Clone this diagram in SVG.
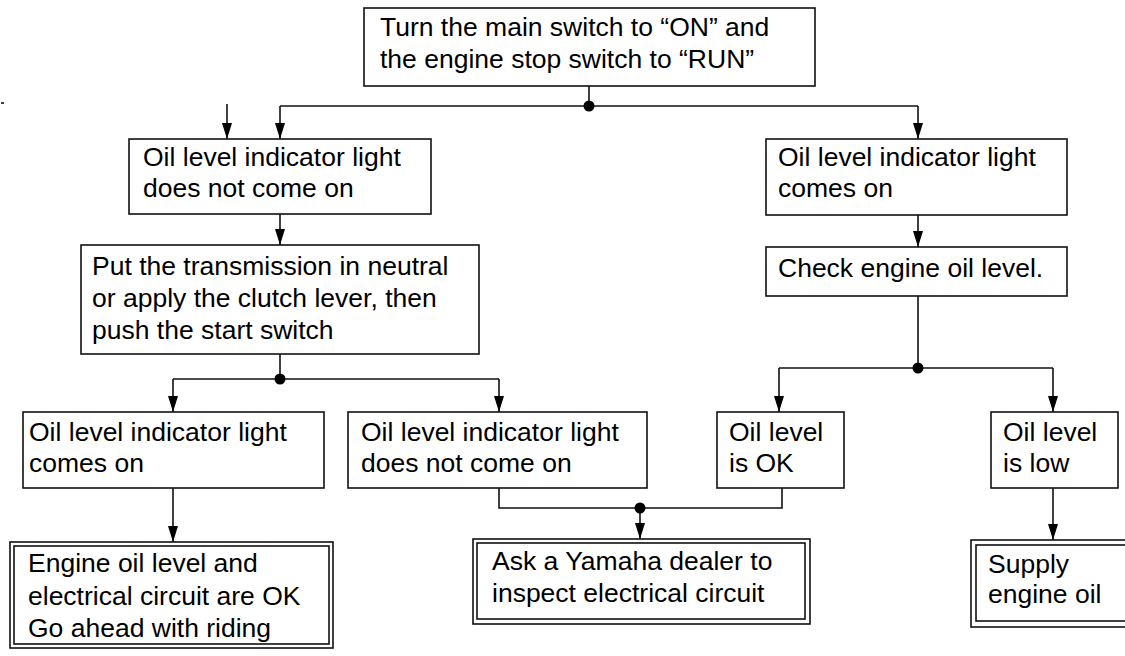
<svg xmlns="http://www.w3.org/2000/svg" width="1125" height="656" viewBox="0 0 1125 656">
<defs>
<style>
.box{fill:#fff;stroke:#111;stroke-width:1.6}
.ln{fill:none;stroke:#111;stroke-width:1.6}
.t{font-family:"Liberation Sans",Arial,sans-serif;font-size:26.5px;fill:#000}
.dot{fill:#000}
</style>
<marker id="ah" viewBox="0 0 16 10" refX="16" refY="5" markerWidth="16" markerHeight="10" markerUnits="userSpaceOnUse" orient="auto">
<path d="M0,0 L16,5 L0,10 z" fill="#000"/>
</marker>
</defs>
<rect width="1125" height="656" fill="#fff"/>

<g id="connectors">
<path class="ln" d="M589,86 V106"/>
<path class="ln" d="M280,106 H918"/>
<path class="ln" d="M280,106 V139" marker-end="url(#ah)"/>
<path class="ln" d="M918,106 V139" marker-end="url(#ah)"/>
<path class="ln" d="M227,104 V139" marker-end="url(#ah)"/>
<path class="ln" d="M1,103 H4"/>
<path class="ln" d="M280,214 V245" marker-end="url(#ah)"/>
<path class="ln" d="M280,354 V379"/>
<path class="ln" d="M173,379 H499"/>
<path class="ln" d="M173,379 V412" marker-end="url(#ah)"/>
<path class="ln" d="M499,379 V412" marker-end="url(#ah)"/>
<path class="ln" d="M918,215 V247" marker-end="url(#ah)"/>
<path class="ln" d="M918,296 V368"/>
<path class="ln" d="M779,368 H1053"/>
<path class="ln" d="M779,368 V412" marker-end="url(#ah)"/>
<path class="ln" d="M1053,368 V412" marker-end="url(#ah)"/>
<path class="ln" d="M173,488 V542" marker-end="url(#ah)"/>
<path class="ln" d="M499,488 V508 H782 V488"/>
<path class="ln" d="M640,508 V539" marker-end="url(#ah)"/>
<path class="ln" d="M1053,488 V540" marker-end="url(#ah)"/>
<circle class="dot" cx="589" cy="106" r="5.5"/>
<circle class="dot" cx="280" cy="379" r="5.5"/>
<circle class="dot" cx="918" cy="368" r="5.5"/>
<circle class="dot" cx="640" cy="508" r="5.5"/>
</g>

<g id="start">
<rect class="box" x="364" y="8" width="451" height="78"/>
<text class="t" x="380" y="36">Turn the main switch to “ON” and</text>
<text class="t" x="380" y="68">the engine stop switch to “RUN”</text>
</g>

<g id="not-on-1">
<rect class="box" x="129" y="139" width="302" height="75"/>
<text class="t" x="143" y="166">Oil level indicator light</text>
<text class="t" x="143" y="197">does not come on</text>
</g>

<g id="on-1">
<rect class="box" x="766" y="139" width="301" height="76"/>
<text class="t" x="778" y="166">Oil level indicator light</text>
<text class="t" x="778" y="197">comes on</text>
</g>

<g id="check">
<rect class="box" x="766" y="247" width="301" height="49"/>
<text class="t" x="778" y="277">Check engine oil level.</text>
</g>

<g id="put-neutral">
<rect class="box" x="81" y="245" width="398" height="109"/>
<text class="t" x="92" y="275">Put the transmission in neutral</text>
<text class="t" x="92" y="307">or apply the clutch lever, then</text>
<text class="t" x="92" y="339">push the start switch</text>
</g>

<g id="on-2">
<rect class="box" x="23" y="412" width="301" height="76"/>
<text class="t" x="29" y="441">Oil level indicator light</text>
<text class="t" x="29" y="472">comes on</text>
</g>

<g id="not-on-2">
<rect class="box" x="348" y="412" width="299" height="76"/>
<text class="t" x="361" y="441">Oil level indicator light</text>
<text class="t" x="361" y="472">does not come on</text>
</g>

<g id="oil-ok">
<rect class="box" x="717" y="412" width="127" height="76"/>
<text class="t" x="729" y="441">Oil level</text>
<text class="t" x="729" y="472">is OK</text>
</g>

<g id="oil-low">
<rect class="box" x="991" y="412" width="127" height="76"/>
<text class="t" x="1003" y="441">Oil level</text>
<text class="t" x="1003" y="472">is low</text>
</g>

<g id="go-riding">
<rect class="box" x="10" y="542" width="323" height="106"/>
<rect class="box" x="14" y="546" width="315" height="98"/>
<text class="t" x="28" y="572">Engine oil level and</text>
<text class="t" x="28" y="605">electrical circuit are OK</text>
<text class="t" x="28" y="637">Go ahead with riding</text>
</g>

<g id="ask-dealer">
<rect class="box" x="473" y="539" width="337" height="85"/>
<rect class="box" x="477" y="543" width="328" height="76"/>
<text class="t" x="492" y="570">Ask a Yamaha dealer to</text>
<text class="t" x="492" y="602">inspect electrical circuit</text>
</g>

<g id="supply-oil">
<rect class="box" x="971" y="540" width="170" height="87"/>
<rect class="box" x="976" y="545" width="160" height="76"/>
<text class="t" x="988" y="573">Supply</text>
<text class="t" x="988" y="603">engine oil</text>
</g>
</svg>
